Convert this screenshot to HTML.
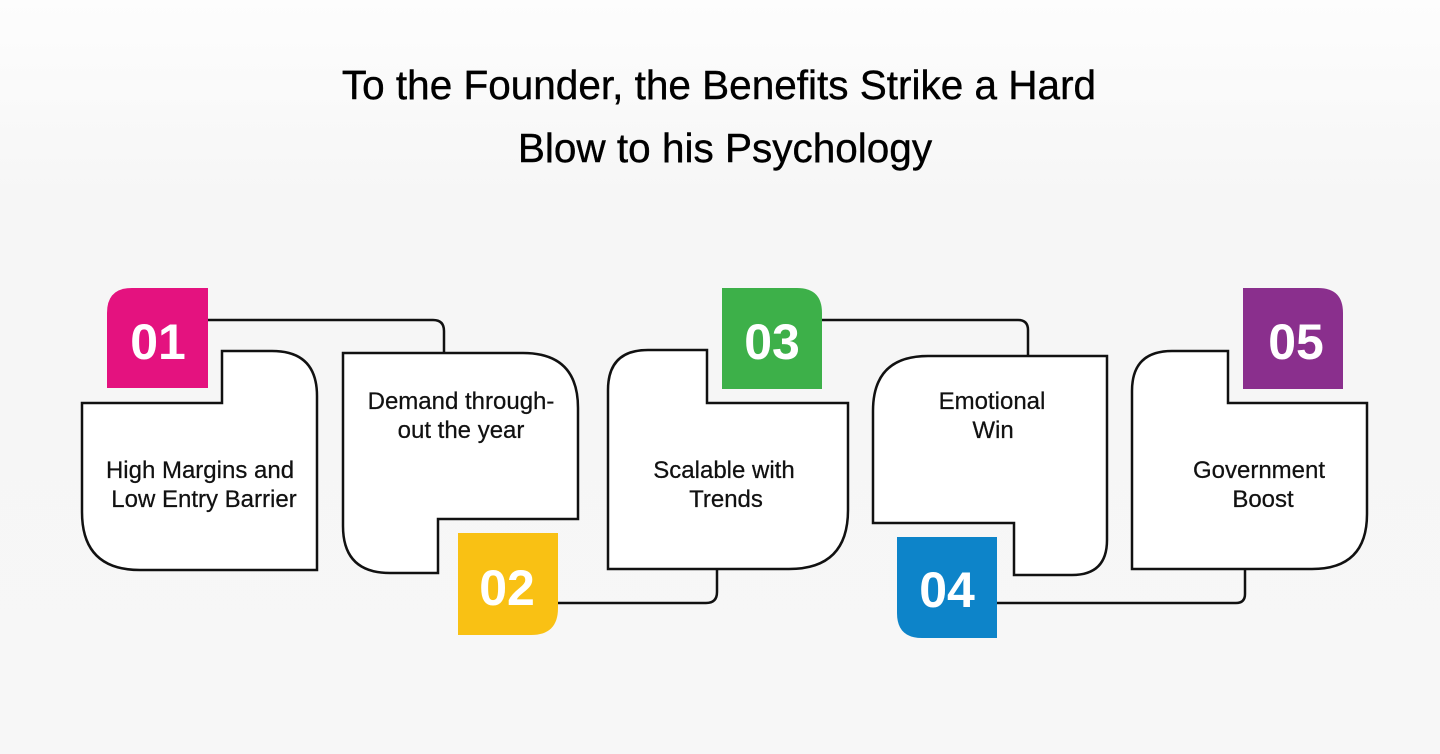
<!DOCTYPE html>
<html><head><meta charset="utf-8"><style>
html,body{margin:0;padding:0}
body{width:1440px;height:754px;overflow:hidden;background:linear-gradient(#fdfdfd 0,#f6f6f6 200px,#f7f7f7 100%);font-family:"Liberation Sans",sans-serif}
</style></head><body>
<svg width="1440" height="754" viewBox="0 0 1440 754" xmlns="http://www.w3.org/2000/svg" style="position:absolute;left:0;top:0">
<g font-family="Liberation Sans, sans-serif" fill="#000" font-size="40.5" text-anchor="middle" stroke="#000" stroke-width="0.4">
<text x="719" y="99">To the Founder, the Benefits Strike a Hard</text>
<text x="725" y="162">Blow to his Psychology</text>
</g>
<g fill="none" stroke="#111" stroke-width="2.5">
<path d="M208 320 H433 Q444 320 444 331 V352"/>
<path d="M558 603 H706 Q717 603 717 592 V569"/>
<path d="M822 320 H1018 Q1028 320 1028 330 V356"/>
<path d="M997 603 H1236 Q1245 603 1245 594 V569"/>
</g>
<g fill="#fff" stroke="#111" stroke-width="2.5">
<path d="M82 403 H222 V351 H272 Q317 351 317 396 V570 H140 Q82 570 82 512 Z"/>
<path d="M343 353 H523 Q578 353 578 408 V519 H438 V573 H390 Q343 573 343 526 Z"/>
<path d="M608 403 V390 Q608 350 648 350 H707 V403 H848 V510 Q848 569 789 569 H608 Z"/>
<path d="M873 523 V411 Q873 356 928 356 H1107 V540 Q1107 575 1072 575 H1014 V523 Z"/>
<path d="M1132 569 V391 Q1132 351 1172 351 H1228 V403 H1367 V514 Q1367 569 1312 569 Z"/>
</g>
<path d="M132 288 H208 V388 H107 V313 Q107 288 132 288 Z" fill="#e4127f"/>
<path d="M458 533 H558 V608 Q558 635 531 635 H458 Z" fill="#f9c114"/>
<path d="M722 288 H797 Q822 288 822 313 V389 H722 Z" fill="#3db049"/>
<path d="M897 537 H997 V638 H922 Q897 638 897 613 Z" fill="#0d84c9"/>
<path d="M1243 288 H1318 Q1343 288 1343 313 V389 H1243 Z" fill="#8a2f8d"/>
<g font-family="Liberation Sans, sans-serif" font-weight="bold" font-size="50" fill="#fff" text-anchor="middle">
<text x="158" y="359">01</text>
<text x="507" y="605">02</text>
<text x="772" y="359">03</text>
<text x="947" y="607">04</text>
<text x="1296" y="359">05</text>
</g>
<g font-family="Liberation Sans, sans-serif" font-size="24" fill="#111" text-anchor="middle" stroke="#111" stroke-width="0.25">
<text x="200" y="478">High Margins and</text>
<text x="204" y="507">Low Entry Barrier</text>
<text x="461" y="409">Demand through-</text>
<text x="461" y="438">out the year</text>
<text x="724" y="478">Scalable with</text>
<text x="726" y="507">Trends</text>
<text x="992" y="409">Emotional</text>
<text x="993" y="438">Win</text>
<text x="1259" y="478">Government</text>
<text x="1263" y="507">Boost</text>
</g>
</svg>
</body></html>
